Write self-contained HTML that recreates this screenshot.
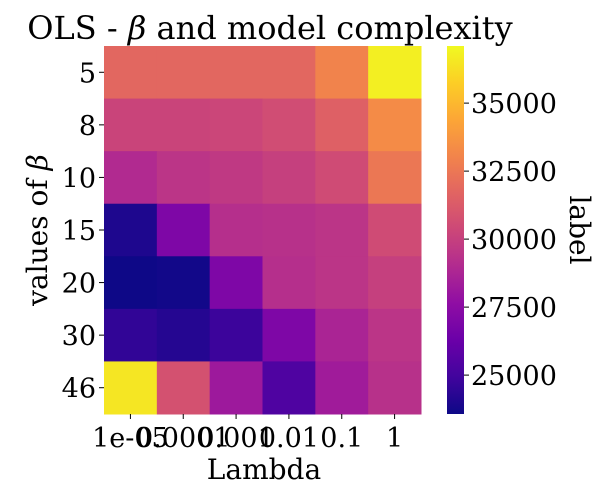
<!DOCTYPE html>
<html><head><meta charset="utf-8"><style>
body{margin:0;background:#fff}
text{font-family:"DejaVu Serif","Liberation Serif",serif;fill:#000}
</style></head><body>
<svg id="chart" width="605" height="494" viewBox="0 0 605 494">
<text x="270" y="39" font-size="32" text-anchor="middle">OLS - <tspan font-style="italic">β</tspan> and model complexity</text>
<g id="cells"></g>
<g id="yticks"></g>
<g id="xticks"></g>
<text transform="translate(47,230) rotate(-90)" font-size="28" text-anchor="middle">values of <tspan font-style="italic">β</tspan></text>
<text x="264" y="479" font-size="28" text-anchor="middle">Lambda</text>
<defs><linearGradient id="cg" x1="0" y1="1" x2="0" y2="0"></linearGradient></defs>
<rect x="447" y="46" width="17" height="368" fill="url(#cg)"/>
<g id="cticks"></g>
<text transform="translate(570,230) rotate(90)" font-size="28" text-anchor="middle">label</text>
</svg>
<script>
const xLabels=["1e-05","0.0001","0.001","0.01","0.1","1"];
const yLabels=["5","8","10","15","20","30","46"];
const values=[
[31800,31800,31800,31800,33000,36800],
[30200,30200,30300,30600,31500,33300],
[29000,29500,29700,30000,30500,32500],
[24000,27000,29200,29300,29500,30500],
[23600,23700,27000,29200,29500,30000],
[24500,24200,24800,27000,28700,29500],
[36500,30800,28200,25400,28300,29300]];
const cbTicks=[25000,27500,30000,32500,35000];
const vmin=23570,vmax=37100;
const stops=["#0d0887","#41049d","#6a00a8","#8f0da4","#b12a90","#cc4778","#e16462","#f2844b","#fca636","#fcce25","#f0f921"];
function hex(h){return[1,3,5].map(i=>parseInt(h.substr(i,2),16));}
function cmap(v){let t=Math.max(0,Math.min(1,(v-vmin)/(vmax-vmin)))*10;let i=Math.min(9,Math.floor(t)),f=t-i;const a=hex(stops[i]),b=hex(stops[i+1]);return"rgb("+a.map((c,k)=>Math.round(c+(b[k]-c)*f)).join(",")+")";}
const X0=104,X1=421,Y0=46,Y1=414;
const cw=(X1-X0)/xLabels.length,ch=(Y1-Y0)/yLabels.length;
const xs=i=>X0+i*cw, ys=j=>Y0+j*ch;
const cbY=v=>Y1-(v-vmin)/(vmax-vmin)*(Y1-Y0);
const NS="http://www.w3.org/2000/svg";
function mk(t,p,at){const e=document.createElementNS(NS,t);for(const k in at)e.setAttribute(k,at[k]);p.appendChild(e);return e;}
const cells=document.getElementById("cells");
values.forEach((row,j)=>row.forEach((v,i)=>{
const r=mk("rect",cells,{x:xs(i),y:ys(j),width:cw+0.5,height:ch+0.5,fill:cmap(v)});


}));
const yt=document.getElementById("yticks");
yLabels.forEach((l,j)=>{
const y=ys(j)+ch/2;
mk("line",yt,{x1:X0-5,x2:X0,y1:y,y2:y,stroke:"#000"});
const t=mk("text",yt,{x:X0-8,y:y+10,"font-size":"27","text-anchor":"end"});t.textContent=l;


});
const xt=document.getElementById("xticks");
xLabels.forEach((l,i)=>{
const x=xs(i)+cw/2;
mk("line",xt,{x1:x,x2:x,y1:Y1,y2:Y1+5,stroke:"#000"});
const t=mk("text",xt,{x:x,y:Y1+33,"font-size":"27","text-anchor":"middle"});t.textContent=l;


});
const g=document.getElementById("cg");
for(let k=0;k<=20;k++){mk("stop",g,{offset:k/20,"stop-color":cmap(vmin+(vmax-vmin)*k/20)});}
const ct=document.getElementById("cticks");
cbTicks.forEach(v=>{
const y=cbY(v);
mk("line",ct,{x1:464,x2:469,y1:y,y2:y,stroke:"#000"});
const t=mk("text",ct,{x:471,y:y+10,"font-size":"27"});t.textContent=v;


});
</script>
</body></html>
